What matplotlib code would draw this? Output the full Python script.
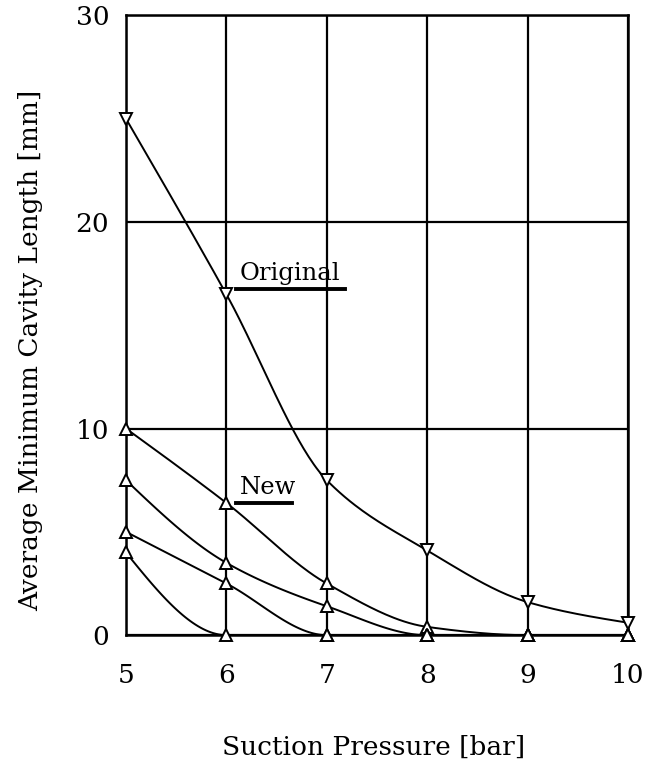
import numpy as np
import matplotlib.pyplot as plt

plt.rcParams['font.family'] = 'DejaVu Serif'

pressure = [5, 6, 7, 8, 9, 10]
original = [25.0, 16.5, 7.5, 4.1, 1.6, 0.6]
new_a = [10.0, 6.4, 2.5, 0.4, 0.0, 0.0]
new_b = [7.5, 3.5, 1.4, 0.0, 0.0, 0.0]
new_c = [5.0, 2.5, 0.0, 0.0, 0.0, 0.0]
new_d = [4.0, 0.0, 0.0, 0.0, 0.0, 0.0]


def smooth(x, y, n=40):
    # monotone cubic curve through the points, flat where it lands on zero
    x = np.asarray(x, float)
    y = np.asarray(y, float)
    h = np.diff(x)
    d = np.diff(y) / h
    m = np.zeros_like(y)
    for i in range(1, len(x) - 1):
        if d[i - 1] * d[i] > 0:
            m[i] = 2 / (1 / d[i - 1] + 1 / d[i])
    if y[-1] != 0:
        m[-1] = (3 * d[-1] - m[-2]) / 2 if len(x) > 2 else d[-1]
    m[0] = (3 * d[0] - m[1]) / 2
    xs, ys = [], []
    for i in range(len(x) - 1):
        t = np.linspace(0, 1, n)
        h00 = 2*t**3 - 3*t**2 + 1
        h10 = t**3 - 2*t**2 + t
        h01 = -2*t**3 + 3*t**2
        h11 = t**3 - t**2
        xs.append(x[i] + t * h[i])
        ys.append(h00*y[i] + h10*h[i]*m[i] + h01*y[i+1] + h11*h[i]*m[i+1])
    return np.concatenate(xs), np.concatenate(ys)


fig = plt.figure(figsize=(6.46, 7.68), dpi=100)
ax = fig.add_axes([0.195, 0.173, 0.777, 0.807])

series = [(original, 'v'), (new_a, '^'), (new_b, '^'), (new_c, '^'), (new_d, '^')]
for vals, mk in series:
    # line stops where the series first reaches zero
    stop = len(vals)
    for i, v in enumerate(vals):
        if v == 0:
            stop = i + 1
            break
    sx, sy = smooth(pressure[:stop], vals[:stop])
    ax.plot(sx, sy, color='black', lw=1.4, zorder=3)
    ax.plot(pressure, vals, linestyle='none', marker=mk, markersize=8,
            mfc='white', mec='black', mew=1.4, zorder=4, clip_on=False)

ax.set_xlim(5, 10)
ax.set_ylim(0, 30)
ax.set_xticks(pressure)
ax.set_yticks([0, 10, 20, 30])
ax.grid(True, color='black', lw=1.6)
ax.set_axisbelow(True)
for s in ax.spines.values():
    s.set_linewidth(1.8)
ax.tick_params(length=0, labelsize=19)
ax.tick_params(axis='x', pad=20)
ax.tick_params(axis='y', pad=12)

ax.text(6.13, 16.95, 'Original', fontsize=17.5, ha='left', va='bottom')
ax.plot([6.1, 7.18], [16.75, 16.75], color='black', lw=2.8, zorder=5)
ax.text(6.13, 6.6, 'New', fontsize=17.5, ha='left', va='bottom')
ax.plot([6.1, 6.65], [6.4, 6.4], color='black', lw=2.8, zorder=5)

ax.set_xlabel('Suction Pressure [bar]', fontsize=19, va='top')
ax.xaxis.set_label_coords(0.494, -0.16)
ax.set_ylabel('Average Minimum Cavity Length [mm]', fontsize=19)
ax.yaxis.set_label_coords(-0.165, 0.46)

fig.savefig('out.png', dpi=100)
